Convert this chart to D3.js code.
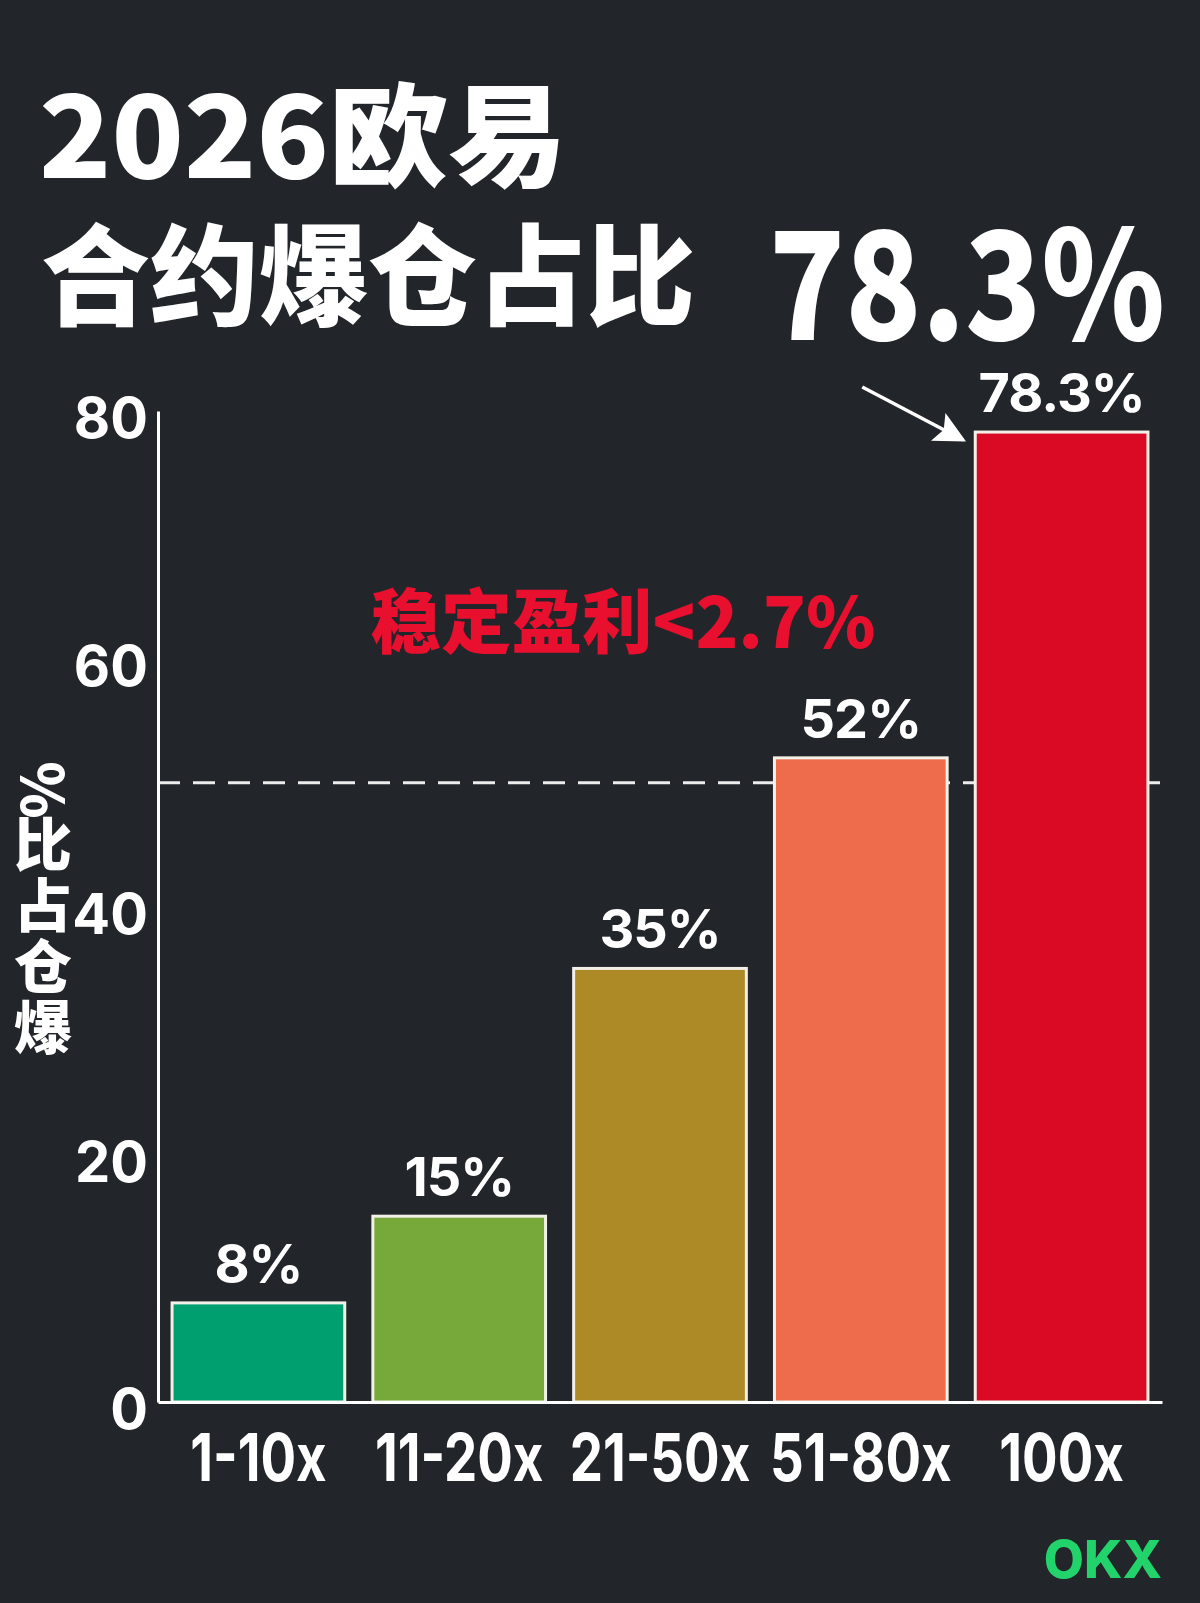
<!DOCTYPE html>
<html>
<head>
<meta charset="utf-8">
<script src="https://cdn.jsdelivr.net/npm/d3@7"></script>
<style>
  html, body { margin: 0; padding: 0; background: #222529; }
  svg { display: block; }
</style>
</head>
<body>
<svg id="chart" width="1200" height="1603"></svg>
<script>
// leverage buckets and liquidation share (%)
const categories = ["1-10x", "11-20x", "21-50x", "51-80x", "100x"];
const values = [8, 15, 35, 52, 78.3];
const valueLabels = ["8%", "15%", "35%", "52%", "78.3%"];
const barColors = ["#009f6f", "#77a93a", "#ad8a26", "#ee6b4c", "#da0a25"];
const yTicks = [0, 20, 40, 60, 80];
const refValue = 50;

const titleLine1 = "2026欧易";
const titleLine2 = "合约爆仓占比";
const headline = "78.3%";
const yTitle = "爆仓占比%";
const note = "稳定盈利<2.7%";
const brand = "OKX";

const cjk = '"Noto Sans CJK SC", "Noto Sans", sans-serif';
const latin = 'Inter, "Noto Sans", sans-serif';

const svg = d3.select("#chart");

svg.append("rect")
  .attr("width", 1200)
  .attr("height", 1603)
  .attr("fill", "#222529");

const x = d3.scaleBand()
  .domain(categories)
  .range([158, 1162])
  .paddingInner(0.14)
  .paddingOuter(0.07);

const y = d3.scaleLinear()
  .domain([0, 80])
  .range([1402, 411]);

// title
svg.append("text")
  .attr("x", 39).attr("y", 178)
  .attr("font-family", cjk).attr("font-weight", 900)
  .attr("font-size", 112).attr("fill", "#fff")
  .attr("textLength", 528).attr("lengthAdjust", "spacingAndGlyphs")
  .text(titleLine1);

svg.append("text")
  .attr("x", 41).attr("y", 317)
  .attr("font-family", cjk).attr("font-weight", 900)
  .attr("font-size", 110).attr("fill", "#fff")
  .attr("textLength", 654).attr("lengthAdjust", "spacingAndGlyphs")
  .text(titleLine2);

svg.append("text")
  .attr("x", 769).attr("y", 340)
  .attr("font-family", cjk).attr("font-weight", 900)
  .attr("font-size", 150).attr("fill", "#fff")
  .attr("textLength", 396).attr("lengthAdjust", "spacingAndGlyphs")
  .text(headline);

// reference line at 50% (behind bars)
svg.append("line")
  .attr("x1", x.range()[0]).attr("x2", x.range()[1])
  .attr("y1", y(refValue)).attr("y2", y(refValue))
  .attr("stroke", "#ececec")
  .attr("stroke-width", 3)
  .attr("stroke-dasharray", "22,13");

// bars
svg.append("g")
  .selectAll("rect")
  .data(values)
  .join("rect")
  .attr("x", (d, i) => x(categories[i]))
  .attr("y", d => y(d))
  .attr("width", x.bandwidth())
  .attr("height", d => y(0) - y(d))
  .attr("fill", (d, i) => barColors[i])
  .attr("stroke", "#f3f0e8")
  .attr("stroke-width", 3);

// value labels
svg.append("g")
  .selectAll("text")
  .data(values)
  .join("text")
  .attr("x", (d, i) => x(categories[i]) + x.bandwidth() / 2)
  .attr("y", d => y(d) - 20)
  .attr("text-anchor", "middle")
  .attr("font-family", latin).attr("font-weight", 700)
  .attr("font-size", 54).attr("letter-spacing", -1).attr("fill", "#fff")
  .text((d, i) => valueLabels[i]);

// y axis
const yAxis = svg.append("g")
  .attr("transform", `translate(${x.range()[0]},0)`)
  .call(d3.axisLeft(y).tickValues(yTicks).tickSize(0).tickSizeOuter(0).tickPadding(10));
yAxis.select(".domain").attr("stroke", "#fff").attr("stroke-width", 3);
yAxis.selectAll("text")
  .attr("font-family", latin).attr("font-weight", 700)
  .attr("font-size", 56).attr("fill", "#fff")
  .attr("dy", "0.48em");

// x axis
const xAxis = svg.append("g")
  .attr("transform", `translate(0,${y(0)})`)
  .call(d3.axisBottom(x).tickSize(0).tickSizeOuter(0).tickPadding(32));
xAxis.select(".domain").attr("stroke", "#fff").attr("stroke-width", 3);
xAxis.selectAll("text")
  .attr("font-family", latin).attr("font-weight", 700)
  .attr("font-size", 66).attr("fill", "#fff")
  .attr("dy", "0.71em")
  .attr("transform", "scale(0.8,1)");

// y axis title, characters stacked bottom to top
const yTitleChars = Array.from(yTitle);
svg.append("g")
  .selectAll("text")
  .data(yTitleChars)
  .join("text")
  .attr("transform", (d, i) => {
    const cy = 1028 - i * 61;
    return d === "%" ? `translate(43,${cy + 6}) rotate(-90)` : `translate(43,${cy})`;
  })
  .attr("text-anchor", "middle")
  .attr("dy", "0.36em")
  .attr("font-family", cjk).attr("font-weight", 900)
  .attr("font-size", 58).attr("fill", "#fff")
  .text(d => d);

// red note
svg.append("text")
  .attr("x", 623).attr("y", 648)
  .attr("text-anchor", "middle")
  .attr("font-family", cjk).attr("font-weight", 900)
  .attr("font-size", 70).attr("fill", "#e8102e")
  .attr("textLength", 505).attr("lengthAdjust", "spacingAndGlyphs")
  .text(note);

// arrow to the 100x bar
const last = categories.length - 1;
const tipX = x(categories[last]) - 12;
const tipY = y(values[last]) + 8;
svg.append("defs").append("marker")
  .attr("id", "arrowhead")
  .attr("viewBox", "0 0 10 10")
  .attr("refX", 9).attr("refY", 5)
  .attr("markerWidth", 9).attr("markerHeight", 9)
  .attr("markerUnits", "strokeWidth")
  .attr("orient", "auto")
  .append("path")
  .attr("d", "M0,0 L10,5 L0,10 L2,5 Z")
  .attr("fill", "#fff");
svg.append("line")
  .attr("x1", tipX - 101).attr("y1", tipY - 53)
  .attr("x2", tipX).attr("y2", tipY)
  .attr("stroke", "#fff")
  .attr("stroke-width", 3.5)
  .attr("marker-end", "url(#arrowhead)");

// brand
svg.append("text")
  .attr("x", 1162).attr("y", 1578)
  .attr("text-anchor", "end")
  .attr("font-family", latin).attr("font-weight", 800)
  .attr("font-size", 52).attr("fill", "#22d36b")
  .text(brand);
</script>
</body>
</html>
